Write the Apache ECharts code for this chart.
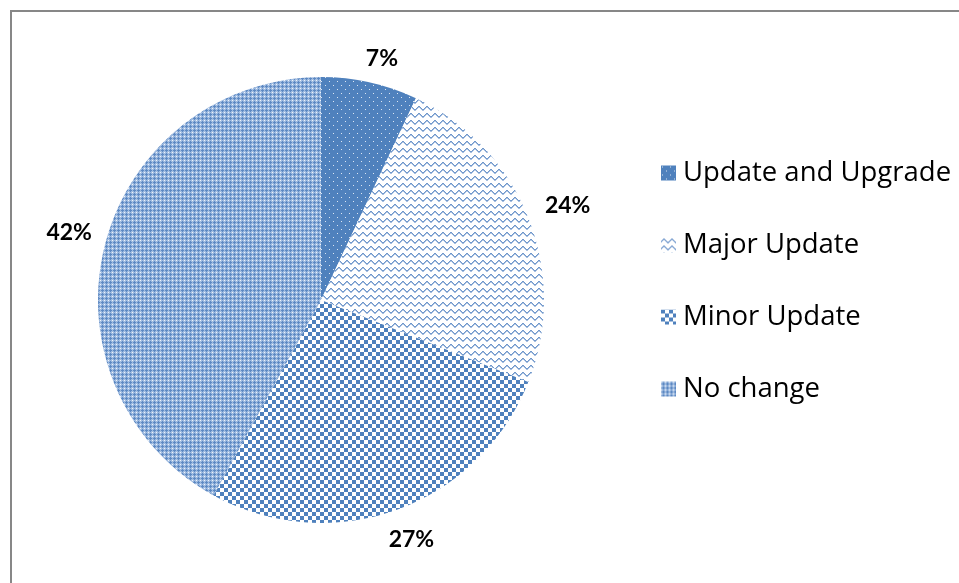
<!DOCTYPE html>
<html>
<head>
<meta charset="utf-8">
<script src="https://cdn.jsdelivr.net/npm/echarts@6/dist/echarts.min.js"></script>
<style>
  html, body { margin: 0; padding: 0; background: #fff; }
  #chart { width: 959px; height: 583px; }
</style>
</head>
<body>
<div id="chart"></div>
<script>
const categories = ['Update and Upgrade', 'Major Update', 'Minor Update', 'No change'];
const shares = [7, 24, 27, 42];

const BLUE = '#4F81BD';

// small canvas tiles to mimic the Excel fill patterns
function makePattern (w, h, draw) {
  const c = document.createElement('canvas');
  c.width = w;
  c.height = h;
  const ctx = c.getContext('2d');
  draw(ctx);
  return { image: c, repeat: 'repeat' };
}

const patterns = [
  // sparse white dots on solid blue
  makePattern(8, 8, ctx => {
    ctx.fillStyle = BLUE;
    ctx.fillRect(0, 0, 8, 8);
    ctx.fillStyle = '#dce6f2';
    ctx.fillRect(1, 1, 1, 1);
    ctx.fillRect(5, 5, 1, 1);
  }),
  // wave lines
  makePattern(8, 7, ctx => {
    ctx.fillStyle = '#fff';
    ctx.fillRect(0, 0, 8, 7);
    ctx.fillStyle = '#6f97cb';
    const ys = [3, 2, 1, 1, 2, 3, 4, 4];
    ys.forEach((y, x) => ctx.fillRect(x, y, 1, 1));
    ctx.fillStyle = '#a9c1e1';
    ys.forEach((y, x) => ctx.fillRect(x, y + 1, 1, 1));
  }),
  // large checkerboard
  makePattern(8, 8, ctx => {
    ctx.fillStyle = '#fff';
    ctx.fillRect(0, 0, 8, 8);
    ctx.fillStyle = BLUE;
    ctx.fillRect(0, 0, 4, 4);
    ctx.fillRect(4, 4, 4, 4);
  }),
  // small crosses, light
  makePattern(4, 4, ctx => {
    ctx.fillStyle = '#9fbbe0';
    ctx.fillRect(0, 0, 4, 4);
    ctx.fillStyle = '#5d89c3';
    ctx.fillRect(2, 1, 1, 3);
    ctx.fillRect(1, 2, 3, 1);
    ctx.fillStyle = '#eef3fa';
    ctx.fillRect(0, 0, 1, 1);
  })
];

// nudges so the labels sit where Excel put them
const labelOffsets = [[4, 13], [4, 2], [2, -6], [1, -3]];

const chart = echarts.init(document.getElementById('chart'));

const option = {
  animation: false,
  backgroundColor: '#fff',
  graphic: [{
    type: 'rect',
    shape: { x: 11, y: 11, width: 1000, height: 1000 },
    style: { fill: 'none', stroke: '#878787', lineWidth: 2 },
    silent: true
  }],
  legend: {
    orient: 'vertical',
    left: 656,
    top: 154,
    itemWidth: 15,
    itemHeight: 15,
    itemGap: 44,
    icon: 'rect',
    data: categories,
    textStyle: {
      fontFamily: 'Open Sans',
      fontSize: 27.5,
      color: '#000',
      padding: [0, 0, 0, 2]
    }
  },
  series: [{
    name: 'share',
    type: 'pie',
    center: [321, 300],
    radius: [0, 223],
    startAngle: 90,
    clockwise: true,
    silent: true,
    label: { show: false },
    labelLine: { show: false },
    data: categories.map((name, i) => ({
      name: name,
      value: shares[i],
      itemStyle: { color: patterns[i], borderWidth: 0 }
    }))
  }, {
    // transparent ring that only carries the percentage labels
    name: 'labels',
    type: 'pie',
    center: [321, 300],
    radius: [248, 268],
    startAngle: 90,
    clockwise: true,
    silent: true,
    itemStyle: { color: 'rgba(0,0,0,0)' },
    label: {
      show: true,
      position: 'inside',
      formatter: p => p.value + '%',
      fontFamily: 'Lato',
      fontWeight: 'bold',
      fontSize: 23,
      color: '#000'
    },
    labelLine: { show: false },
    data: categories.map((name, i) => ({
      name: name,
      value: shares[i],
      label: { offset: labelOffsets[i] }
    }))
  }]
};

chart.setOption(option);
</script>
</body>
</html>
